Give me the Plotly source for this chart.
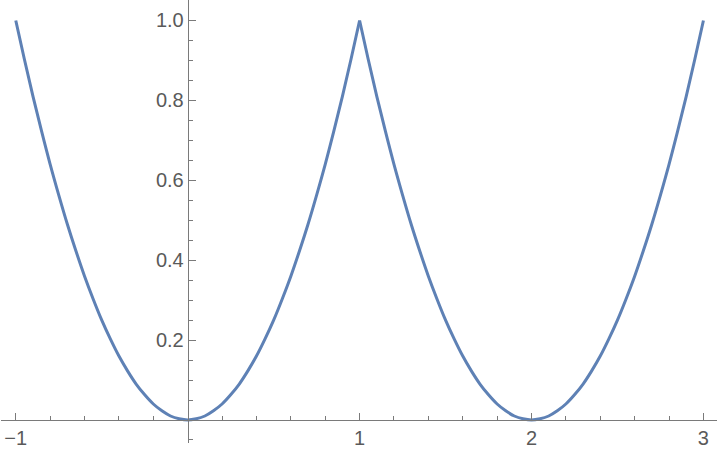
import plotly.graph_objects as go

x_values = [
    -1.00, -0.95, -0.90, -0.85, -0.80, -0.75, -0.70, -0.65, -0.60, -0.55,
    -0.50, -0.45, -0.40, -0.35, -0.30, -0.25, -0.20, -0.15, -0.10, -0.05,
    0.00, 0.05, 0.10, 0.15, 0.20, 0.25, 0.30, 0.35, 0.40, 0.45,
    0.50, 0.55, 0.60, 0.65, 0.70, 0.75, 0.80, 0.85, 0.90, 0.95,
    1.00, 1.05, 1.10, 1.15, 1.20, 1.25, 1.30, 1.35, 1.40, 1.45,
    1.50, 1.55, 1.60, 1.65, 1.70, 1.75, 1.80, 1.85, 1.90, 1.95,
    2.00, 2.05, 2.10, 2.15, 2.20, 2.25, 2.30, 2.35, 2.40, 2.45,
    2.50, 2.55, 2.60, 2.65, 2.70, 2.75, 2.80, 2.85, 2.90, 2.95,
    3.00,
]
y_values = [
    1.000, 0.903, 0.810, 0.723, 0.640, 0.563, 0.490, 0.423, 0.360, 0.303,
    0.250, 0.203, 0.160, 0.123, 0.090, 0.063, 0.040, 0.023, 0.010, 0.003,
    0.000, 0.003, 0.010, 0.023, 0.040, 0.063, 0.090, 0.123, 0.160, 0.203,
    0.250, 0.303, 0.360, 0.423, 0.490, 0.563, 0.640, 0.723, 0.810, 0.903,
    1.000, 0.903, 0.810, 0.723, 0.640, 0.563, 0.490, 0.423, 0.360, 0.303,
    0.250, 0.203, 0.160, 0.123, 0.090, 0.063, 0.040, 0.023, 0.010, 0.003,
    0.000, 0.003, 0.010, 0.023, 0.040, 0.063, 0.090, 0.123, 0.160, 0.203,
    0.250, 0.303, 0.360, 0.423, 0.490, 0.563, 0.640, 0.723, 0.810, 0.903,
    1.000,
]
x_ticks = [-1, 1, 2, 3]
y_ticks = [0.2, 0.4, 0.6, 0.8, 1.0]
y_tick_labels = ["0.2", "0.4", "0.6", "0.8", "1.0"]

x_range = [-1.086, 3.079]
y_range = [-0.0576, 1.0513]

axis_col = "#7a7a7a"
label_col = "#5a5a5a"
font = dict(family="Liberation Sans, Arial, sans-serif", size=20, color=label_col)

fig = go.Figure()
cusp = x_values.index(1.00)
for xs, ys in [(x_values[:cusp + 1], y_values[:cusp + 1]),
               (x_values[cusp:], y_values[cusp:])]:
    fig.add_trace(go.Scatter(
        x=xs, y=ys, mode="lines",
        line=dict(color="#5E81B5", width=3, shape="spline", smoothing=1),
        hoverinfo="skip", showlegend=False,
    ))

x_pos = (0 - y_range[0]) / (y_range[1] - y_range[0])
y_pos = (0 - x_range[0]) / (x_range[1] - x_range[0])

fig.update_layout(
    width=720, height=456,
    margin=dict(l=1, r=3, t=0, b=13, autoexpand=False),
    paper_bgcolor="white", plot_bgcolor="white",
    xaxis=dict(
        range=x_range, showgrid=False, zeroline=False, automargin=False,
        showline=True, linecolor=axis_col, linewidth=1,
        anchor="free", position=x_pos,
        tickmode="array", tickvals=x_ticks,
        ticks="inside", ticklen=7, tickwidth=1, tickcolor=axis_col,
        tickfont=font,
        minor=dict(tickmode="array",
                   tickvals=[-0.8, -0.6, -0.4, -0.2, 0.2, 0.4, 0.6, 0.8,
                             1.2, 1.4, 1.6, 1.8, 2.2, 2.4, 2.6, 2.8],
                   ticks="inside", ticklen=4, tickwidth=1, tickcolor=axis_col),
    ),
    yaxis=dict(
        range=y_range, showgrid=False, zeroline=False, automargin=False,
        showline=True, linecolor=axis_col, linewidth=1,
        anchor="free", position=y_pos,
        tickmode="array", tickvals=y_ticks, ticktext=y_tick_labels,
        ticks="inside", ticklen=7, tickwidth=1, tickcolor=axis_col,
        tickfont=font,
        minor=dict(tickmode="array",
                   tickvals=[-0.05, 0.05, 0.1, 0.15, 0.25, 0.3, 0.35, 0.45, 0.5,
                             0.55, 0.65, 0.7, 0.75, 0.85, 0.9, 0.95, 1.05],
                   ticks="inside", ticklen=4, tickwidth=1, tickcolor=axis_col),
    ),
)

fig.write_html(
    "out.html",
    config={"displayModeBar": False},
    post_script="document.body.style.margin='0';document.body.style.overflow='hidden';",
)
